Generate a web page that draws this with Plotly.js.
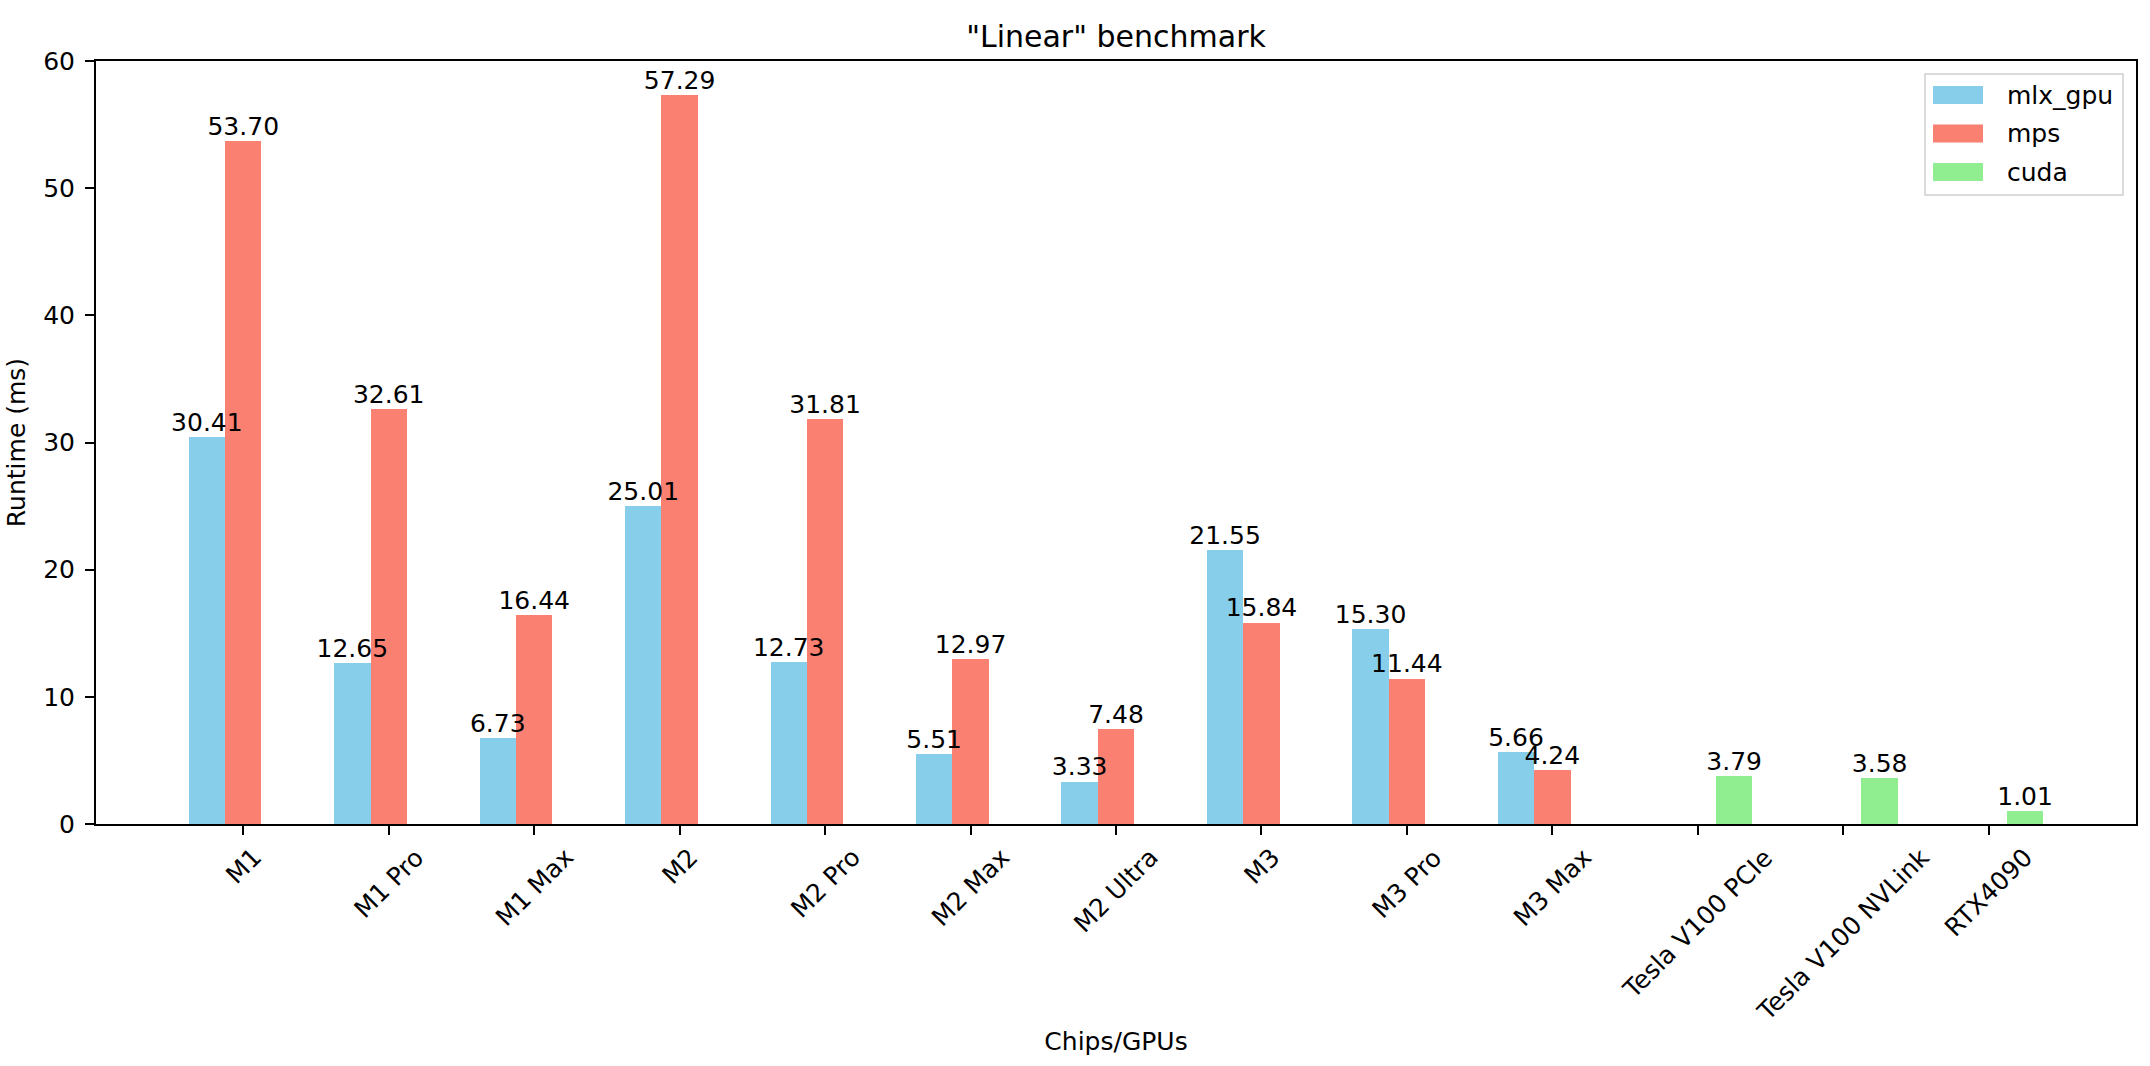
<!DOCTYPE html>
<html>
<head>
<meta charset="utf-8">
<script src="https://cdn.plot.ly/plotly-3.0.1.min.js"></script>
<style>
  html, body { margin: 0; padding: 0; background: #fff; }
  #chart { width: 2150px; height: 1066px; }
</style>
</head>
<body>
<div id="chart"></div>
<script>
// chips / GPUs on the x axis
var chips = ['M1', 'M1 Pro', 'M1 Max', 'M2', 'M2 Pro', 'M2 Max', 'M2 Ultra',
             'M3', 'M3 Pro', 'M3 Max', 'Tesla V100 PCIe', 'Tesla V100 NVLink', 'RTX4090'];

// runtimes in ms (null = not measured on that device)
var mlxGpu = [30.41, 12.65, 6.73, 25.01, 12.73, 5.51, 3.33, 21.55, 15.30, 5.66, null, null, null];
var mps    = [53.70, 32.61, 16.44, 57.29, 31.81, 12.97, 7.48, 15.84, 11.44, 4.24, null, null, null];
var cuda   = [null, null, null, null, null, null, null, null, null, null, 3.79, 3.58, 1.01];

var seriesNames  = ['mlx_gpu', 'mps', 'cuda'];
var seriesColors = ['skyblue', 'salmon', 'lightgreen'];

var FONT = 'DejaVu Sans, sans-serif';
var barWidth = 0.25;
var xIdx = chips.map(function (c, i) { return i; });

function barTrace(vals, k) {
  return {
    type: 'bar',
    x: xIdx,
    y: vals,
    name: seriesNames[k],
    width: barWidth,
    offset: (k - 1) * barWidth - barWidth / 2,
    marker: { color: seriesColors[k], line: { width: 0 } },
    hoverinfo: 'x+y'
  };
}

// value labels go in their own text traces so no bar covers them
function labelTrace(vals, k) {
  return {
    type: 'scatter',
    mode: 'text',
    x: xIdx.map(function (i) { return i + (k - 1) * barWidth; }),
    y: vals,
    text: vals.map(function (v) { return v == null ? '' : v.toFixed(2); }),
    textposition: 'top center',
    textfont: { family: FONT, size: 25, color: '#000' },
    cliponaxis: false,
    hoverinfo: 'skip',
    showlegend: false
  };
}

var series = [mlxGpu, mps, cuda];
var data = series.map(barTrace).concat(series.map(labelTrace));

// plot area in page pixels (used to place the legend box)
var W = 2150, H = 1066;
var margin = { l: 96, r: 14, t: 61, b: 242 };
var plotW = W - margin.l - margin.r, plotH = H - margin.t - margin.b;
function px(xp) { return (xp - margin.l) / plotW; }
function py(yp) { return (H - margin.b - yp) / plotH; }

// rotated category labels, centred under each tick like matplotlib
var annotations = chips.map(function (c, i) {
  return {
    x: i, xref: 'x', y: 0, yref: 'paper',
    text: c, showarrow: false, textangle: -45,
    xanchor: 'center', yanchor: 'top', yshift: -16,
    font: { family: FONT, size: 25, color: '#000' }
  };
});

// legend drawn by hand so the swatches look like matplotlib's
var shapes = [{
  type: 'rect', xref: 'paper', yref: 'paper',
  x0: px(1925), x1: px(2123), y0: py(195), y1: py(74),
  line: { color: '#d0d0d0', width: 1.5 }, fillcolor: 'rgba(255,255,255,0.8)'
}];
seriesNames.forEach(function (n, k) {
  var cy = 95 + k * 38.5;
  shapes.push({
    type: 'rect', xref: 'paper', yref: 'paper',
    x0: px(1933), x1: px(1983), y0: py(cy + 9), y1: py(cy - 9),
    line: { width: 0 }, fillcolor: seriesColors[k]
  });
  annotations.push({
    x: px(2005), xref: 'paper', y: py(cy), yref: 'paper',
    text: n, showarrow: false, xanchor: 'left', yanchor: 'middle',
    font: { family: FONT, size: 25, color: '#000' }
  });
});

var layout = {
  width: W,
  height: H,
  margin: margin,
  paper_bgcolor: '#fff',
  plot_bgcolor: '#fff',
  showlegend: false,
  bargap: 0,
  title: {
    text: '"Linear" benchmark',
    font: { family: FONT, size: 30, color: '#000' },
    x: 0.5, xref: 'paper', xanchor: 'center',
    y: 1, yref: 'paper', yanchor: 'bottom',
    pad: { b: 14 }
  },
  xaxis: {
    range: [-1.0125, 13.0125],
    tickvals: xIdx,
    ticktext: chips,
    showticklabels: false,
    ticks: 'outside', ticklen: 9, tickwidth: 2, tickcolor: '#000',
    showline: true, linecolor: '#000', linewidth: 2, mirror: true,
    showgrid: false, zeroline: false,
    title: { text: 'Chips/GPUs', font: { family: FONT, size: 25, color: '#000' }, standoff: 198 }
  },
  yaxis: {
    range: [0, 60],
    dtick: 10,
    ticks: 'outside', ticklen: 9, tickwidth: 2, tickcolor: '#000',
    tickfont: { family: FONT, size: 25, color: '#000' },
    ticklabelstandoff: 5,
    showline: true, linecolor: '#000', linewidth: 2, mirror: true,
    showgrid: false, zeroline: false,
    title: { text: 'Runtime (ms)', font: { family: FONT, size: 25, color: '#000' }, standoff: 10 }
  },
  shapes: shapes,
  annotations: annotations
};

Plotly.newPlot('chart', data, layout, { displayModeBar: false, responsive: false });
</script>
</body>
</html>
